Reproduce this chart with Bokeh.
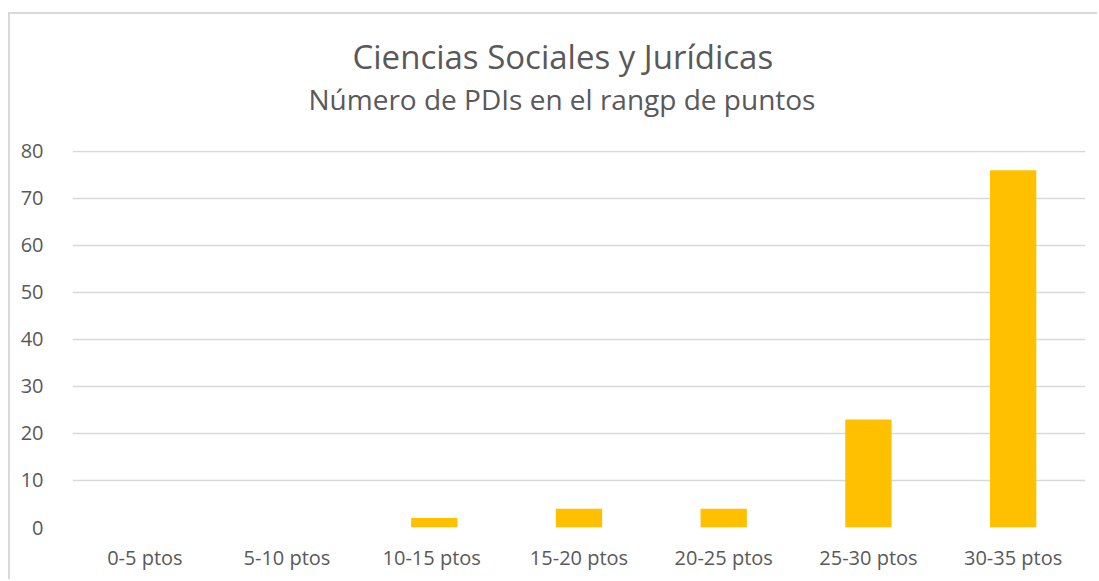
from bokeh.plotting import figure
from bokeh.models import Range1d, Title, FixedTicker, InlineStyleSheet
from bokeh.embed import file_html
from bokeh.resources import INLINE

categories = ["0-5 ptos", "5-10  ptos", "10-15  ptos", "15-20 ptos", "20-25 ptos", "25-30 ptos", "30-35 ptos"]
values = [0, 0, 2, 4, 4, 23, 76]
y_ticks = [0, 10, 20, 30, 40, 50, 60, 70, 80]
title_text = "Ciencias Sociales y Jurídicas"
subtitle_text = "Número de PDIs en el rangp de puntos"

FONT = "Open Sans"
TXT = "#595959"
GRID = "#D9D9D9"

p = figure(x_range=categories, y_range=Range1d(0, 80.2), width=1097, height=579,
           output_backend="svg", toolbar_location=None)

p.vbar(x=categories, top=values, width=0.32, fill_color="#FFC000", line_color=None)

# spacer panel between subtitle and plot area
p.add_layout(Title(text=" ", text_font=FONT, text_font_size="1px", standoff=29), "above")
p.add_layout(Title(text=subtitle_text, align="left", offset=236,
                   text_font=FONT, text_font_size="28px", text_color=TXT,
                   text_font_style="normal", standoff=2), "above")
p.add_layout(Title(text=title_text, align="left", offset=280,
                   text_font=FONT, text_font_size="33px", text_color=TXT,
                   text_font_style="normal", standoff=-4), "above")

p.min_border_left = 72
p.min_border_right = 12
p.min_border_top = 150
p.min_border_bottom = 52

p.border_fill_color = None
p.background_fill_color = None
p.outline_line_color = None
p.xgrid.grid_line_color = None
p.ygrid.grid_line_color = GRID
p.ygrid.grid_line_width = 1.3
p.yaxis.ticker = FixedTicker(ticks=y_ticks)

for ax in (p.xaxis, p.yaxis):
    ax.axis_line_color = None
    ax.major_tick_line_color = None
    ax.minor_tick_line_color = None
    ax.major_label_text_font = FONT
    ax.major_label_text_font_size = "20px"
    ax.major_label_text_color = TXT
p.yaxis.major_label_standoff = 23
p.xaxis.major_label_standoff = 10

p.stylesheets = [InlineStyleSheet(css="""
:host {
  background:
    linear-gradient(#D9D9D9, #D9D9D9) 8px 12px / 2px 2000px no-repeat,
    linear-gradient(#D9D9D9, #D9D9D9) 8px 12px / 3000px 2px no-repeat,
    #FFFFFF;
}
""")]

open("out.html", "w").write(file_html(p, INLINE))
